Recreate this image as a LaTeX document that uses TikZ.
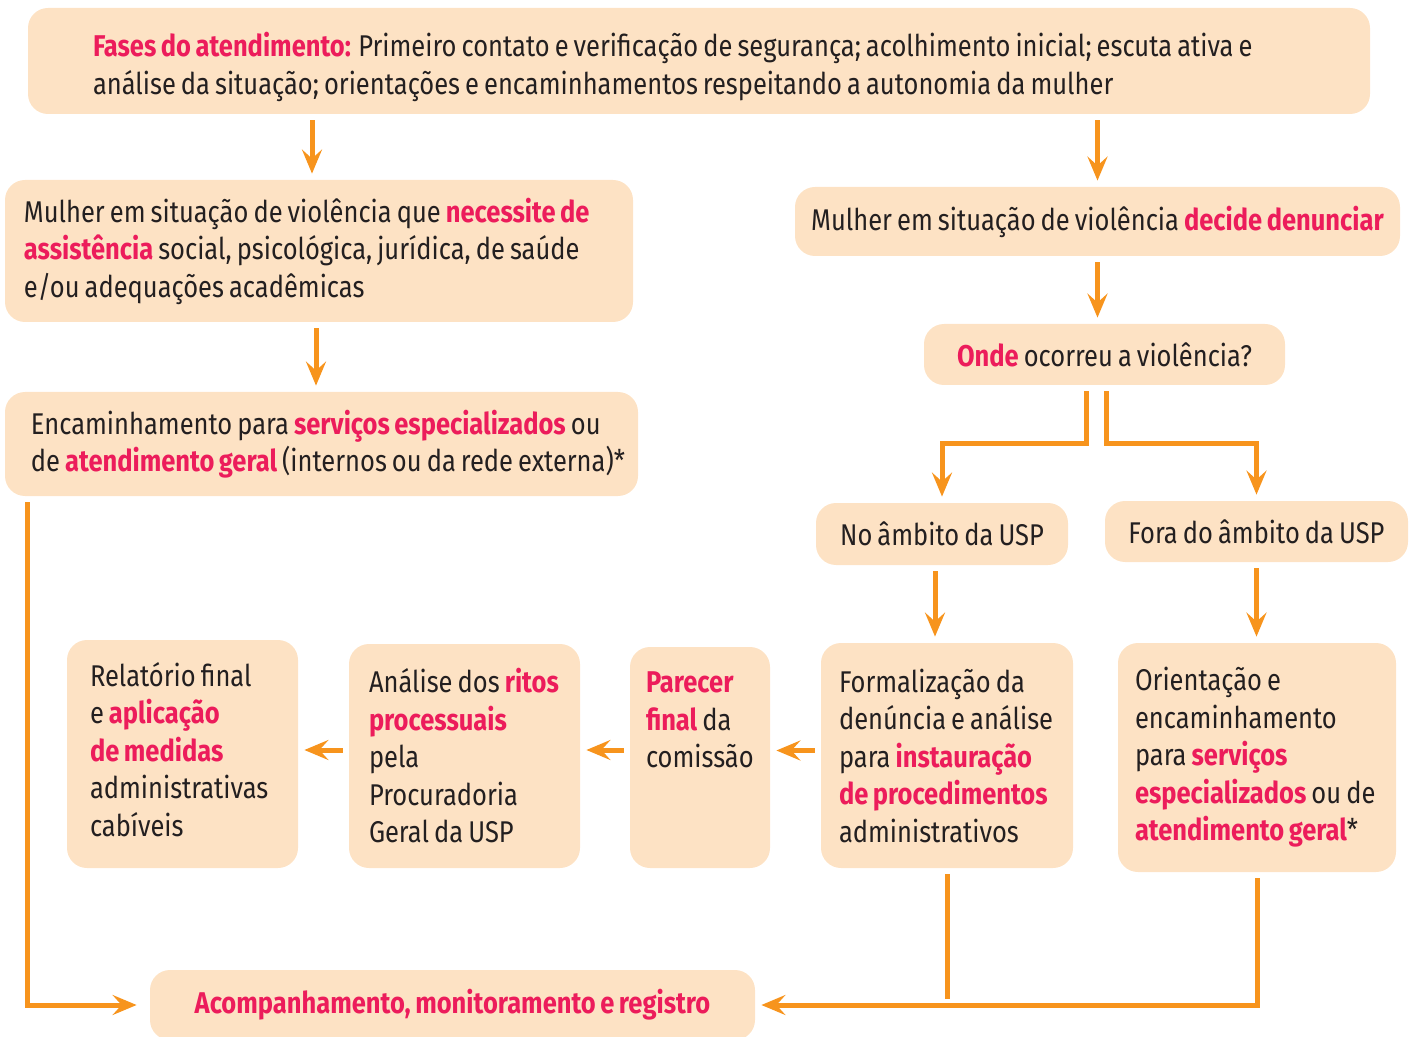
\documentclass[tikz,border=0pt]{standalone}
\usepackage{fontspec}
\setmainfont{Fira Sans}[FakeStretch=0.85,WordSpace=0.75]
\usetikzlibrary{arrows.meta,positioning,calc}
\definecolor{caixa}{HTML}{FDE2C4}
\definecolor{destaque}{HTML}{EC1C5B}
\definecolor{seta}{HTML}{F7941D}
\definecolor{texto}{HTML}{231F20}
\newcommand{\realce}[1]{\textbf{\color{destaque}#1}}

\begin{document}
\begin{tikzpicture}[
        x=0.5pt, y=-0.5pt,
        font=\fontsize{15}{18.75}\selectfont,
        >={Stealth[length=12pt,width=10pt,inset=4.5pt]},
        box/.style={rectangle,fill=caixa,rounded corners=10pt,text=texto,inner ysep=0pt},
        bloco/.style={box,align=flush left},
        arrow/.style={->,draw=seta,line width=2.5pt,shorten <=3pt,shorten >=3pt}
    ]
        \useasboundingbox (0,0) rectangle (1413,1037);

        \node[bloco,minimum width=671pt,minimum height=53pt,inner xsep=32.5pt,text width=606pt] (fases) at (699,61)
            {\rule{0pt}{18pt}\realce{Fases do atendimento:} Primeiro contato e verificação de segurança; acolhimento inicial; escuta ativa e\\ análise da situação; orientações e encaminhamentos respeitando a autonomia da mulher};
        \node[bloco,minimum width=314pt,minimum height=71pt,inner xsep=9.5pt,text width=295pt] (assist) at (319,251)
            {Mulher em situação de violência que \realce{necessite de}\\ \realce{assistência} social, psicológica, jurídica, de saúde\\ e/ou adequações acadêmicas};
        \node[box,minimum width=302.5pt,minimum height=34.5pt] (denuncia) at (1097.5,221.5)
            {Mulher em situação de violência \realce{decide denunciar}};
        \node[box,minimum width=180.5pt,minimum height=30.5pt] (onde) at (1104.5,354.5)
            {\realce{Onde} ocorreu a violência?};
        \node[bloco,minimum width=316.5pt,minimum height=52pt,inner xsep=13pt,text width=290.5pt] (encam) at (321.5,444)
            {Encaminhamento para \realce{serviços especializados} ou\\ \mbox{de \realce{atendimento geral}\,(internos ou da rede externa)*}};
        \node[box,minimum width=126pt,minimum height=31pt] (dentro) at (942,534) {No âmbito da USP};
        \node[box,minimum width=151.5pt,minimum height=30.5pt] (fora) at (1256.5,531.5) {Fora do âmbito da USP};

        % linha de baixo
        \node[bloco,minimum width=115.5pt,minimum height=114pt,inner xsep=11.5pt,text width=92.5pt] (relatorio) at (182.5,754)
            {Relatório final\\ e \realce{aplicação}\\ \realce{de medidas}\\ administrativas\\ cabíveis\rule[-5pt]{0pt}{5pt}};
        \node[bloco,minimum width=115.5pt,minimum height=112pt,inner xsep=10pt,text width=95.5pt] (analise) at (464.5,756)
            {Análise dos \realce{ritos}\\ \realce{processuais}\\ pela\\ Procuradoria\\ Geral da USP};
        \node[bloco,minimum width=70pt,minimum height=110.5pt,inner xsep=8pt,text width=54pt] (parecer) at (700,757.5)
            {\realce{Parecer}\\ \realce{final} da\\ comissão\\ \mbox{}\\ \mbox{}};
        \node[bloco,minimum width=126pt,minimum height=112.5pt,inner xsep=9pt,text width=108pt] (formal) at (947,755.5)
            {Formalização da\\ denúncia e análise\\ para \realce{instauração}\\ \realce{de procedimentos}\\ administrativos};
        \node[bloco,minimum width=139pt,minimum height=114.5pt,inner xsep=8.5pt,text width=122pt] (orient) at (1257,757.5)
            {Orientação e\\ encaminhamento\\ para \realce{serviços}\\ \realce{especializados} ou de\\ \realce{atendimento geral}*};
        \node[box,minimum width=302.5pt,minimum height=35pt] (acomp) at (452.5,1005)
            {\realce{Acompanhamento, monitoramento e registro}};

        \draw[arrow] ([xshift=-3.5pt]fases.south -| assist.north) -- ([xshift=-3.5pt]assist.north);
        \draw[arrow] (fases.south -| denuncia.north) -- (denuncia.north);
        \draw[arrow] ([xshift=-1.5pt]assist.south) -- ([xshift=-1.5pt]assist.south |- encam.north);
        \draw[arrow] (denuncia.south) -- (denuncia.south |- onde.north);
        \draw[arrow] ([xshift=-9pt]onde.south) -- ++(0,58) -| (dentro.north);
        \draw[arrow] ([xshift=1pt]onde.south) -- ++(0,58) -| (fora.north);
        \draw[arrow] ([xshift=-3.5pt]dentro.south) -- ([xshift=-3.5pt]dentro.south |- formal.north);
        \draw[arrow] (fora.south) -- (fora.south |- orient.north);
        \draw[arrow] ([yshift=2.5pt]formal.west) -- ([yshift=2.5pt]formal.west -| parecer.east);
        \draw[arrow] ([yshift=3.75pt]parecer.west) -- ([yshift=3.75pt]parecer.west -| analise.east);
        \draw[arrow] ([yshift=3pt]analise.west) -- ([yshift=3pt]analise.west -| relatorio.east);
        \draw[arrow,shorten >=6.5pt] ([xshift=11.5pt]encam.south west) |- (acomp.west);
        \draw[arrow,-] (formal.south) -- (formal.south |- acomp.east);
        \draw[arrow] (orient.south) |- (acomp.east);
    \end{tikzpicture}
\end{document}
